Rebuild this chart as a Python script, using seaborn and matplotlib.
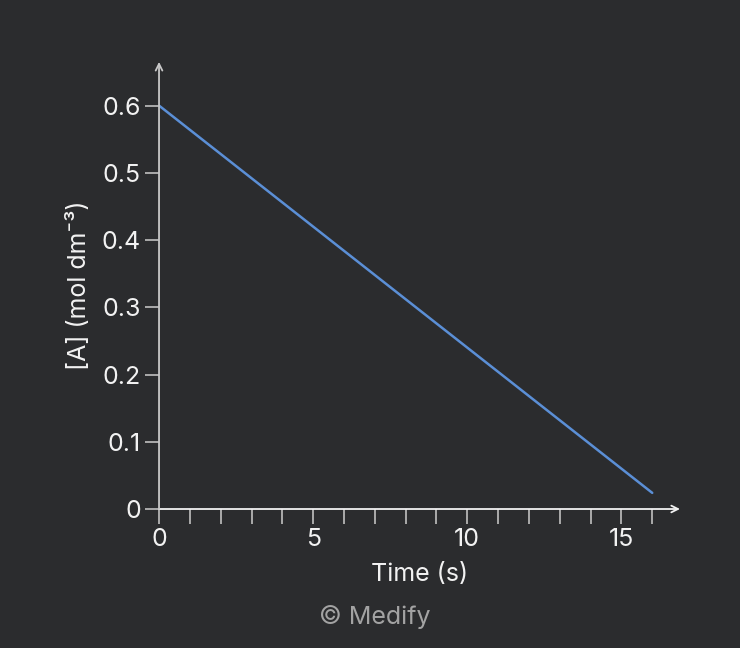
import matplotlib
matplotlib.use("Agg")
import matplotlib.pyplot as plt
import seaborn as sns
import pandas as pd

# data: zero-order decay of [A]
time_s = [0, 16]
conc_A = [0.6, 0.024]
x_ticks = list(range(0, 17))
x_labels = ["0" if t == 0 else (str(t) if t % 5 == 0 else "") for t in x_ticks]
y_ticks = [0, 0.1, 0.2, 0.3, 0.4, 0.5, 0.6]
y_labels = ["0", "0.1", "0.2", "0.3", "0.4", "0.5", "0.6"]

bg = "#2b2c2e"
fg = "#f2f2f2"
axis_col = "#c8c8c8"

sns.set_theme(style="dark")
plt.rcParams["font.family"] = ["Inter", "DejaVu Sans"]

df = pd.DataFrame({"time": time_s, "conc": conc_A})

fig = plt.figure(figsize=(7.4, 6.48), dpi=100, facecolor=bg)
ax = fig.add_axes([0.2149, 0.2145, 0.704, 0.69])
ax.set_facecolor(bg)

sns.lineplot(data=df, x="time", y="conc", ax=ax, color="#5b8fd6", linewidth=1.8)

ax.set_xlim(0, 16.9)
ax.set_ylim(0, 0.665)
ax.set_xticks(x_ticks)
ax.set_xticklabels(x_labels)
ax.set_yticks(y_ticks)
ax.set_yticklabels(y_labels)
ax.grid(False)

for s in ["top", "right", "left", "bottom"]:
    ax.spines[s].set_visible(False)

# axis lines with open arrow heads
ax.annotate("", xy=(1, 0), xytext=(0, 0), xycoords="axes fraction",
            arrowprops=dict(arrowstyle="->", color=fg, lw=1.3, shrinkA=0, shrinkB=0,
                            mutation_scale=12))
ax.annotate("", xy=(0, 1), xytext=(0, 0), xycoords="axes fraction",
            arrowprops=dict(arrowstyle="->", color=axis_col, lw=1.3, shrinkA=0, shrinkB=0,
                            mutation_scale=12))

ax.tick_params(axis="x", bottom=True, direction="out", length=11, width=1.3, color="#b5b5b5",
               labelcolor=fg, labelsize=18, pad=3)
ax.tick_params(axis="y", left=True, direction="out", length=10, width=1.3, color="#b5b5b5",
               labelcolor=fg, labelsize=18, pad=3)

ax.set_xlabel("Time (s)", color=fg, fontsize=18, labelpad=8)
ax.set_ylabel("[A] (mol dm\u207b\u00b3)", color=fg, fontsize=18, labelpad=8)

fig.text(0.507, 0.048, "\u00a9 Medify", color="#a3a3a3", fontsize=18, ha="center", va="center")

fig.savefig("out.png", dpi=100, facecolor=bg)
